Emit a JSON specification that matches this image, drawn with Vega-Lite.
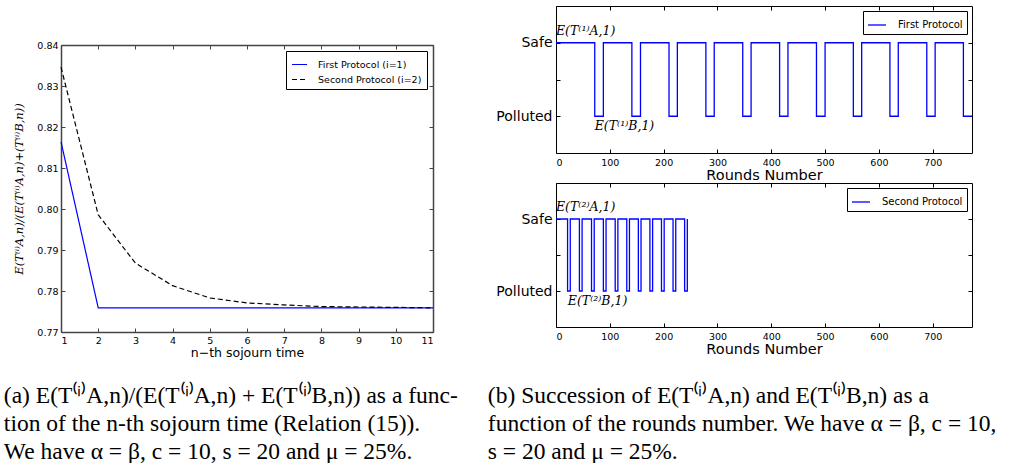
{
  "$schema": "https://vega.github.io/schema/vega-lite/v6.json",
  "background": "white",
  "padding": {"left": 3, "top": 5, "right": 5, "bottom": 5},
  "config": {
    "view": {"stroke": null},
    "axis": {
      "grid": false,
      "labelFont": "DejaVu Sans",
      "titleFont": "DejaVu Sans",
      "labelColor": "black",
      "titleColor": "black",
      "titleFontWeight": "normal",
      "tickColor": "black",
      "domainColor": "black",
      "tickSize": -4,
      "labelFontSize": 9.5
    },
    "legend": {
      "strokeColor": "black",
      "fillColor": "white",
      "cornerRadius": 0,
      "labelFont": "DejaVu Sans",
      "labelColor": "black",
      "symbolType": "stroke"
    }
  },
  "datasets": {
    "ratio": [
      {"n": 1, "ratio": 0.8164, "series": "First Protocol (i=1)"},
      {"n": 2, "ratio": 0.7759, "series": "First Protocol (i=1)"},
      {"n": 3, "ratio": 0.7759, "series": "First Protocol (i=1)"},
      {"n": 4, "ratio": 0.7759, "series": "First Protocol (i=1)"},
      {"n": 5, "ratio": 0.7759, "series": "First Protocol (i=1)"},
      {"n": 6, "ratio": 0.7759, "series": "First Protocol (i=1)"},
      {"n": 7, "ratio": 0.7759, "series": "First Protocol (i=1)"},
      {"n": 8, "ratio": 0.7759, "series": "First Protocol (i=1)"},
      {"n": 9, "ratio": 0.7759, "series": "First Protocol (i=1)"},
      {"n": 10, "ratio": 0.7759, "series": "First Protocol (i=1)"},
      {"n": 11, "ratio": 0.7759, "series": "First Protocol (i=1)"},
      {"n": 1, "ratio": 0.8346, "series": "Second Protocol (i=2)"},
      {"n": 2, "ratio": 0.7986, "series": "Second Protocol (i=2)"},
      {"n": 3, "ratio": 0.7868, "series": "Second Protocol (i=2)"},
      {"n": 4, "ratio": 0.7813, "series": "Second Protocol (i=2)"},
      {"n": 5, "ratio": 0.7783, "series": "Second Protocol (i=2)"},
      {"n": 6, "ratio": 0.7771, "series": "Second Protocol (i=2)"},
      {"n": 7, "ratio": 0.7766, "series": "Second Protocol (i=2)"},
      {"n": 8, "ratio": 0.7762, "series": "Second Protocol (i=2)"},
      {"n": 9, "ratio": 0.7761, "series": "Second Protocol (i=2)"},
      {"n": 10, "ratio": 0.776, "series": "Second Protocol (i=2)"},
      {"n": 11, "ratio": 0.7759, "series": "Second Protocol (i=2)"}
    ],
    "p1": [
      {"round": 0, "state": 1}, {"round": 72, "state": 0},
      {"round": 88, "state": 1}, {"round": 141, "state": 0},
      {"round": 157, "state": 1}, {"round": 210, "state": 0},
      {"round": 225.5, "state": 1}, {"round": 278.5, "state": 0},
      {"round": 294, "state": 1}, {"round": 347, "state": 0},
      {"round": 362.5, "state": 1}, {"round": 415.5, "state": 0},
      {"round": 431, "state": 1}, {"round": 484, "state": 0},
      {"round": 500, "state": 1}, {"round": 552.5, "state": 0},
      {"round": 568, "state": 1}, {"round": 620.5, "state": 0},
      {"round": 636, "state": 1}, {"round": 689, "state": 0},
      {"round": 704.5, "state": 1}, {"round": 757, "state": 0},
      {"round": 773, "state": 0}
    ],
    "p2": [
      {"round": 0, "state": 1}, {"round": 21.5, "state": 0},
      {"round": 26.5, "state": 1}, {"round": 43.5, "state": 0},
      {"round": 48.5, "state": 1}, {"round": 66, "state": 0},
      {"round": 71, "state": 1}, {"round": 88, "state": 0},
      {"round": 93, "state": 1}, {"round": 110, "state": 0},
      {"round": 115, "state": 1}, {"round": 131.5, "state": 0},
      {"round": 136.5, "state": 1}, {"round": 153, "state": 0},
      {"round": 158, "state": 1}, {"round": 174.5, "state": 0},
      {"round": 179.5, "state": 1}, {"round": 196, "state": 0},
      {"round": 201, "state": 1}, {"round": 217.5, "state": 0},
      {"round": 222.5, "state": 1}, {"round": 239, "state": 0},
      {"round": 244, "state": 1}
    ]
  },
  "spacing": 29,
  "resolve": {
    "scale": {"color": "independent", "strokeDash": "independent"},
    "legend": {"color": "independent", "strokeDash": "independent"}
  },
  "hconcat": [
    {
      "spacing": 24,
      "resolve": {
        "scale": {"color": "independent", "strokeDash": "independent"},
        "legend": {"color": "independent", "strokeDash": "independent"}
      },
      "vconcat": [
        {
          "width": 372,
          "height": 10,
          "data": {"values": [{"t": ""}]},
          "mark": {"type": "text"},
          "encoding": {"text": {"field": "t"}}
        },
        {
          "width": 372,
          "height": 287,
          "title": {
            "text": [
              "(a) E(T⁽ⁱ⁾A,n)/(E(T⁽ⁱ⁾A,n) + E(T⁽ⁱ⁾B,n)) as a func-",
              "tion of the n-th sojourn time (Relation (15)).",
              "We have α = β, c = 10, s = 20 and μ = 25%."
            ],
            "orient": "bottom",
            "anchor": "start",
            "frame": "bounds",
            "align": "left",
            "font": "Liberation Serif",
            "fontSize": 23.5,
            "fontWeight": "normal",
            "color": "black",
            "lineHeight": 28,
            "offset": 25,
            "dx": -10
          },
          "data": {"name": "ratio"},
          "layer": [
            {
              "mark": {"type": "line", "strokeWidth": 1.2},
              "encoding": {
                "x": {
                  "field": "n", "type": "quantitative",
                  "scale": {"domain": [1, 11], "nice": false},
                  "axis": {
                    "values": [1, 2, 3, 4, 5, 6, 7, 8, 9, 10, 11],
                    "format": "d",
                    "title": "n−th sojourn time",
                    "titleFontSize": 12.5,
                    "labelPadding": 7,
                    "titlePadding": 2,
                    "domainColor": "#444",
                    "domainWidth": 1.5,
                    "tickColor": "#444"
                  }
                },
                "y": {
                  "field": "ratio", "type": "quantitative",
                  "scale": {"domain": [0.77, 0.84], "nice": false, "zero": false},
                  "axis": {
                    "values": [0.77, 0.78, 0.79, 0.8, 0.81, 0.82, 0.83, 0.84],
                    "format": ".2f",
                    "title": "E(T⁽ⁱ⁾A,n)/(E(T⁽ⁱ⁾A,n)+(T⁽ⁱ⁾B,n))",
                    "titleFont": "DejaVu Serif",
                    "titleFontStyle": "italic",
                    "titleFontSize": 11.5,
                    "titlePadding": 12,
                    "labelPadding": 7,
                    "domainColor": "#444",
                    "domainWidth": 1.5,
                    "tickColor": "#444"
                  }
                },
                "color": {
                  "field": "series", "type": "nominal",
                  "scale": {"domain": ["First Protocol (i=1)", "Second Protocol (i=2)"], "range": ["#0000ff", "#000000"]},
                  "legend": {"title": null, "orient": "top-right", "offset": 6, "symbolSize": 225, "symbolStrokeWidth": 1.2, "labelFontSize": 9.5, "padding": 5, "rowPadding": 2, "labelOffset": 10}
                },
                "strokeDash": {
                  "field": "series", "type": "nominal",
                  "scale": {"domain": ["First Protocol (i=1)", "Second Protocol (i=2)"], "range": [[1, 0], [5, 3]]},
                  "legend": {"title": null, "orient": "top-right", "offset": 6, "symbolSize": 225, "symbolStrokeWidth": 1.2, "labelFontSize": 9.5, "padding": 5, "rowPadding": 2, "labelOffset": 10}
                }
              }
            },
            {
              "mark": {"type": "line", "strokeOpacity": 0},
              "encoding": {
                "x": {"field": "n", "type": "quantitative", "axis": {"orient": "top", "labels": false, "title": null, "values": [1, 2, 3, 4, 5, 6, 7, 8, 9, 10, 11], "domainColor": "#444", "domainWidth": 1.5, "tickColor": "#444"}},
                "y": {"field": "ratio", "type": "quantitative", "axis": {"orient": "right", "labels": false, "title": null, "values": [0.77, 0.78, 0.79, 0.8, 0.81, 0.82, 0.83, 0.84], "domainColor": "#444", "domainWidth": 1.5, "tickColor": "#444"}},
                "detail": {"field": "series"}
              }
            }
          ],
          "resolve": {"axis": {"x": "independent", "y": "independent"}}
        }
      ]
    },
    {
      "title": {
        "text": [
          "(b) Succession of E(T⁽ⁱ⁾A,n) and E(T⁽ⁱ⁾B,n) as a",
          "function of the rounds number. We have α = β, c = 10,",
          "s = 20 and μ = 25%."
        ],
        "orient": "bottom",
        "anchor": "start",
        "frame": "bounds",
        "align": "left",
        "font": "Liberation Serif",
        "fontSize": 23.5,
        "fontWeight": "normal",
        "color": "black",
        "lineHeight": 28,
        "offset": 28,
        "dx": -8
      },
      "spacing": 0,
      "resolve": {
        "scale": {"color": "independent"},
        "legend": {"color": "independent"}
      },
      "vconcat": [
        {
          "width": 416,
          "height": 147,
          "layer": [
            {
              "data": {"name": "p1"},
              "mark": {"type": "line", "interpolate": "step-after", "strokeWidth": 1.3},
              "encoding": {
                "x": {
                  "field": "round", "type": "quantitative",
                  "scale": {"domain": [0, 773], "nice": false},
                  "axis": {"values": [0, 100, 200, 300, 400, 500, 600, 700], "title": "Rounds Number", "titleFontSize": 14.5, "labelPadding": 8, "titlePadding": 2}
                },
                "y": {
                  "field": "state", "type": "quantitative",
                  "scale": {"domain": [-0.5, 1.5], "nice": false, "zero": false},
                  "axis": {"values": [0, 0.5, 1], "labelExpr": "datum.value == 1 ? 'Safe' : datum.value == 0 ? 'Polluted' : ''", "labelFontSize": 14, "title": null, "labelPadding": 8}
                },
                "color": {
                  "datum": "First Protocol", "type": "nominal",
                  "scale": {"range": ["#0000ff"]},
                  "legend": {"title": null, "orient": "top-right", "offset": 5, "symbolSize": 324, "symbolStrokeWidth": 1.3, "labelFontSize": 10, "padding": 4, "labelOffset": 11}
                }
              }
            },
            {
              "data": {"values": [{"round": 0, "state": 1, "label": "E(T⁽¹⁾A,1)"}]},
              "mark": {"type": "text", "align": "left", "baseline": "alphabetic", "dy": -8, "font": "DejaVu Serif", "fontStyle": "italic", "fontSize": 12.5, "color": "black"},
              "encoding": {
                "x": {"field": "round", "type": "quantitative", "axis": null},
                "y": {"field": "state", "type": "quantitative", "axis": null},
                "text": {"field": "label"}
              }
            },
            {
              "data": {"values": [{"round": 72, "state": 0, "label": "E(T⁽¹⁾B,1)"}]},
              "mark": {"type": "text", "align": "left", "baseline": "alphabetic", "dy": 14, "font": "DejaVu Serif", "fontStyle": "italic", "fontSize": 12.5, "color": "black"},
              "encoding": {
                "x": {"field": "round", "type": "quantitative", "axis": null},
                "y": {"field": "state", "type": "quantitative", "axis": null},
                "text": {"field": "label"}
              }
            },
            {
              "data": {"name": "p1"},
              "mark": {"type": "line", "strokeOpacity": 0},
              "encoding": {
                "x": {"field": "round", "type": "quantitative", "axis": {"orient": "top", "labels": false, "title": null, "values": [0, 100, 200, 300, 400, 500, 600, 700]}},
                "y": {"field": "state", "type": "quantitative", "axis": {"orient": "right", "labels": false, "title": null, "values": [0, 0.5, 1]}}
              }
            }
          ],
          "resolve": {"axis": {"x": "independent", "y": "independent"}}
        },
        {
          "width": 416,
          "height": 144,
          "layer": [
            {
              "data": {"name": "p2"},
              "mark": {"type": "line", "interpolate": "step-after", "strokeWidth": 1.3},
              "encoding": {
                "x": {
                  "field": "round", "type": "quantitative",
                  "scale": {"domain": [0, 773], "nice": false},
                  "axis": {"values": [0, 100, 200, 300, 400, 500, 600, 700], "title": "Rounds Number", "titleFontSize": 14.5, "labelPadding": 8, "titlePadding": 2}
                },
                "y": {
                  "field": "state", "type": "quantitative",
                  "scale": {"domain": [-0.5, 1.5], "nice": false, "zero": false},
                  "axis": {"values": [0, 0.5, 1], "labelExpr": "datum.value == 1 ? 'Safe' : datum.value == 0 ? 'Polluted' : ''", "labelFontSize": 14, "title": null, "labelPadding": 8}
                },
                "color": {
                  "datum": "Second Protocol", "type": "nominal",
                  "scale": {"range": ["#0000ff"]},
                  "legend": {"title": null, "orient": "top-right", "offset": 5, "symbolSize": 324, "symbolStrokeWidth": 1.3, "labelFontSize": 10, "padding": 4, "labelOffset": 11}
                }
              }
            },
            {
              "data": {"values": [{"round": 0, "state": 1, "label": "E(T⁽²⁾A,1)"}]},
              "mark": {"type": "text", "align": "left", "baseline": "alphabetic", "dy": -8, "font": "DejaVu Serif", "fontStyle": "italic", "fontSize": 12.5, "color": "black"},
              "encoding": {
                "x": {"field": "round", "type": "quantitative", "axis": null},
                "y": {"field": "state", "type": "quantitative", "axis": null},
                "text": {"field": "label"}
              }
            },
            {
              "data": {"values": [{"round": 22, "state": 0, "label": "E(T⁽²⁾B,1)"}]},
              "mark": {"type": "text", "align": "left", "baseline": "alphabetic", "dy": 14, "font": "DejaVu Serif", "fontStyle": "italic", "fontSize": 12.5, "color": "black"},
              "encoding": {
                "x": {"field": "round", "type": "quantitative", "axis": null},
                "y": {"field": "state", "type": "quantitative", "axis": null},
                "text": {"field": "label"}
              }
            },
            {
              "data": {"name": "p2"},
              "mark": {"type": "line", "strokeOpacity": 0},
              "encoding": {
                "x": {"field": "round", "type": "quantitative", "axis": {"orient": "top", "labels": false, "title": null, "values": [0, 100, 200, 300, 400, 500, 600, 700]}},
                "y": {"field": "state", "type": "quantitative", "axis": {"orient": "right", "labels": false, "title": null, "values": [0, 0.5, 1]}}
              }
            }
          ],
          "resolve": {"axis": {"x": "independent", "y": "independent"}}
        }
      ]
    }
  ]
}
